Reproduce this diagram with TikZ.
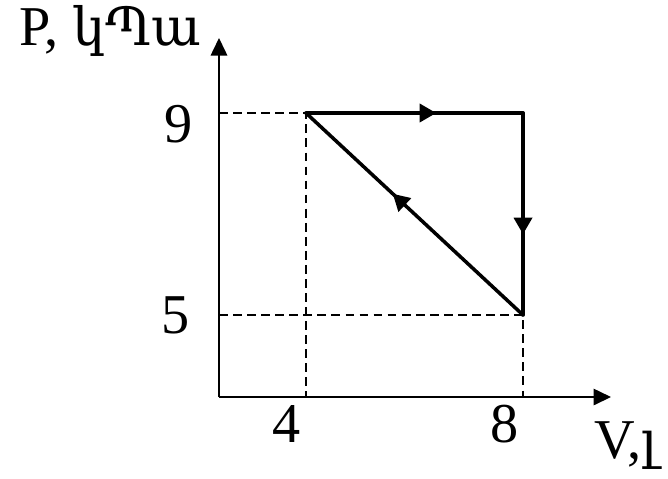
\documentclass[tikz,border=0pt]{standalone}
\usepackage{fontspec}
\setmainfont{Liberation Serif}
\newfontfamily\numfont{Liberation Serif}
\newfontfamily\armfont{DejaVu Serif}
\usepackage{tikz}
\usetikzlibrary{arrows.meta,decorations.markings,positioning}

\tikzset{
  axis/.style={line width=0.9pt,-{Triangle[length=0.35cm,width=0.33cm]}},
  guide/.style={line width=0.7pt,dashed,dash pattern=on 5pt off 3pt},
  cycle/.style={line width=2pt,line cap=round,line join=miter},
  midarrow/.style={postaction={decorate},decoration={markings,
    mark=at position #1 with {\arrow{Triangle[length=0.33cm,width=0.36cm]}}}},
  lbl/.style={font=\numfont\fontsize{32}{38}\selectfont,inner sep=0pt,anchor=base}
}

\begin{document}
\begin{tikzpicture}[x=0.02cm,y=-0.02cm]
  \useasboundingbox (0,0) rectangle (668,478);

  % tengelyek
  \coordinate (O) at (219,397);
  \coordinate (xend) at (611,397);
  \coordinate (yend) at (219,38);
  \draw[axis] (O) -- (xend);
  \draw[axis] (O) -- (yend);

  % pontok
  \coordinate (A) at (306,113);
  \coordinate (B) at (523,113);
  \coordinate (C) at (523,315);
  \coordinate (A0) at (306,397);
  \coordinate (C0) at (523,397);
  \coordinate (P9) at (219,113);
  \coordinate (P5) at (219,315);

  % segedvonalak
  \draw[guide] (P9) -- (A) -- (A0);
  \draw[guide] (P5) -- (C) -- (C0);

  % feliratok
  \node[lbl,anchor=base west] (p) at (19,45) {P, {\armfont\fontsize{30}{36}\selectfont կՊա}};
  \node[lbl,anchor=base west] (v) at (594,458) {V,{\armfont\fontsize{30}{36}\selectfont լ}};
  \node[lbl] (n9) at (179,142) {9};
  \node[lbl] (n5) at (176,333) {5};
  \node[lbl] (n4) at (287,442) {4};
  \node[lbl] (n8) at (505,442) {8};

  % ciklus
  \draw[cycle,midarrow=0.6] (A) -- (B);
  \draw[cycle,midarrow=0.6] (B) -- (C);
  \draw[cycle,midarrow=0.6] (C) -- (A);
\end{tikzpicture}
\end{document}
